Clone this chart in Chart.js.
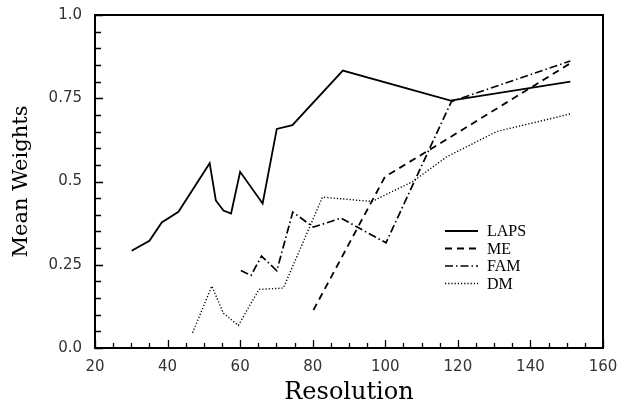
<!DOCTYPE html>
<html><head><meta charset="utf-8">
<script src="https://cdn.jsdelivr.net/npm/chart.js@4"></script>
<style>html,body{margin:0;padding:0;background:#fff}canvas{display:block}</style>
</head><body>
<canvas id="c" width="625" height="404"></canvas>
<script>
const seriesNames = ['LAPS', 'ME', 'FAM', 'DM'];
const lapsX = [30.1, 35, 38.4, 43, 51.6, 53.3, 55.4, 57.5, 60, 66.2, 70.1, 74.4, 88.3, 118, 151];
const lapsY = [0.292, 0.322, 0.377, 0.409, 0.555, 0.443, 0.413, 0.404, 0.529, 0.434, 0.658, 0.669, 0.833, 0.743, 0.800];
const meX = [80.2, 99.9, 117, 151];
const meY = [0.114, 0.514, 0.627, 0.855];
const famX = [60.2, 63, 65.9, 70.1, 74.5, 80.2, 87.8, 100.2, 118.2, 151];
const famY = [0.233, 0.218, 0.276, 0.232, 0.408, 0.363, 0.390, 0.316, 0.740, 0.862];
const dmX = [46.9, 52.2, 55.4, 59.5, 65.2, 71.9, 82.7, 96.3, 107.6, 116.9, 130.7, 151];
const dmY = [0.046, 0.186, 0.104, 0.068, 0.176, 0.180, 0.453, 0.440, 0.500, 0.574, 0.650, 0.703];
const xTickValues = [20, 40, 60, 80, 100, 120, 140, 160];
const yTickValues = [0, 0.25, 0.5, 0.75, 1.0];
const yTickLabels = ['0.0', '0.25', '0.5', '0.75', '1.0'];

function pts(xs, ys) { return xs.map((v, i) => ({x: v, y: ys[i]})); }

const styles = [
  {borderDash: [], borderWidth: 1.8},
  {borderDash: [7, 5], borderWidth: 1.8},
  {borderDash: [8, 3, 1.5, 3], borderWidth: 1.7},
  {borderDash: [1.2, 2], borderWidth: 1.4}
];
const seriesData = [pts(lapsX, lapsY), pts(meX, meY), pts(famX, famY), pts(dmX, dmY)];

const frame = {
  id: 'frame',
  afterDraw(chart) {
    const {ctx, chartArea: a, scales: {x, y}} = chart;
    ctx.save();
    ctx.strokeStyle = '#000';
    ctx.lineWidth = 1.3;
    ctx.beginPath();
    for (let v = x.min; v <= x.max + 1e-9; v += 5) {
      const px = Math.round(x.getPixelForValue(v)) + 0.5;
      const len = (v % 20 === 0) ? 8 : 5;
      ctx.moveTo(px, a.bottom); ctx.lineTo(px, a.bottom - len);
    }
    for (let k = 0; k <= 20; k++) {
      const py = Math.round(y.getPixelForValue(k * 0.05)) + 0.5;
      const len = (k % 5 === 0) ? 8 : 6;
      ctx.moveTo(a.left, py); ctx.lineTo(a.left + len, py);
    }
    ctx.stroke();
    ctx.lineWidth = 2;
    ctx.strokeRect(a.left, a.top, a.right - a.left, a.bottom - a.top);
    // legend
    ctx.font = '16px "Liberation Serif"';
    ctx.textBaseline = 'middle';
    ctx.fillStyle = '#000';
    chart.data.datasets.forEach((ds, i) => {
      const ly = 231 + i * 17.5;
      ctx.beginPath();
      ctx.setLineDash(ds.borderDash || []);
      ctx.lineWidth = ds.borderWidth;
      ctx.moveTo(445, ly); ctx.lineTo(478, ly);
      ctx.stroke();
      ctx.setLineDash([]);
      ctx.fillText(ds.label, 487, ly + 1);
    });
    ctx.restore();
  }
};

new Chart(document.getElementById('c'), {
  type: 'line',
  data: {
    datasets: seriesNames.map((n, i) => ({
      label: n,
      data: seriesData[i],
      borderColor: '#000',
      borderWidth: styles[i].borderWidth,
      borderDash: styles[i].borderDash,
      pointRadius: 0,
      fill: false,
      tension: 0
    }))
  },
  options: {
    responsive: false,
    animation: false,
    devicePixelRatio: 1,
    layout: {autoPadding: false, padding: {top: 15, right: 22, left: 0, bottom: 0}},
    plugins: {legend: {display: false}, tooltip: {enabled: false}},
    scales: {
      x: {
        type: 'linear', min: 20, max: 160,
        afterFit(s) { s.height = 56; s.paddingLeft = 0; s.paddingRight = 0; },
        afterBuildTicks(s) { s.ticks = xTickValues.map(v => ({value: v})); },
        grid: {display: false, drawTicks: false},
        border: {display: false},
        ticks: {padding: 10, color: '#333', font: {family: '"DejaVu Sans"', size: 15}, maxRotation: 0, autoSkip: false},
        title: {display: true, text: 'Resolution', color: '#000', font: {family: '"DejaVu Serif"', size: 24}, padding: {top: 0, bottom: -3}}
      },
      y: {
        type: 'linear', min: 0, max: 1,
        afterFit(s) { s.width = 95; s.paddingTop = 0; s.paddingBottom = 0; },
        afterBuildTicks(s) { s.ticks = yTickValues.map(v => ({value: v})); },
        grid: {display: false, drawTicks: false},
        border: {display: false},
        ticks: {padding: 13, color: '#333', font: {family: '"DejaVu Sans"', size: 15},
          callback: (v) => { const i = yTickValues.indexOf(v); return i >= 0 ? yTickLabels[i] : ''; }},
        title: {display: true, text: 'Mean Weights', color: '#000', font: {family: '"DejaVu Serif"', size: 21}, padding: {top: 9, bottom: 0}}
      }
    }
  },
  plugins: [frame]
});
</script>
</body></html>
